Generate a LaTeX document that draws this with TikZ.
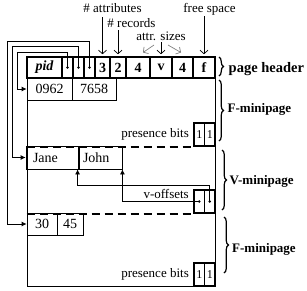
\documentclass[tikz,border=0pt]{standalone}
\usepackage{fontspec}
\setmainfont{Liberation Serif}
\usetikzlibrary{arrows.meta,decorations.pathreplacing}
\begin{document}
\begin{tikzpicture}[x=1pt,y=-1pt,
  hcell/.style={draw, line width=1.6pt, minimum height=21pt, inner sep=0pt, font=\fontsize{14}{16}\selectfont\bfseries},
  cell/.style={draw, line width=0.8pt, inner sep=0pt, font=\fontsize{14}{16}\selectfont},
  bit/.style={draw, line width=1.6pt, minimum width=10.5pt, minimum height=23pt, inner sep=0pt, font=\fontsize{12}{14}\selectfont},
  lbl/.style={font=\fontsize{13}{15}\selectfont, inner sep=0pt},
  side/.style={font=\fontsize{13}{15}\selectfont\bfseries, anchor=base west, inner sep=0pt},
  ptr/.style={line width=0.8pt, -{Latex[length=5pt,width=5pt]}},
  ann/.style={line width=0.7pt, -{Straight Barb[length=3.5pt,width=8pt]}},
  brc/.style={decorate, decoration={brace, amplitude=4.5pt}, line width=1.2pt},
  sepline/.style={line width=2.4pt, dash pattern=on 8pt off 5pt},
  dotmark/.style={circle, fill, inner sep=0pt, minimum size=2.8pt}
]
\useasboundingbox (0,0) rectangle (307,290);

% page outline
\node[draw, line width=0.8pt, minimum width=188pt, minimum height=229pt, inner sep=0pt] (page) at (121,171.5) {};

% header
\node[hcell, minimum width=35pt] (pid) at (44.5,67.5) {\itshape pid};
\node[hcell, minimum width=11pt] (d1) at (67.5,67.5) {};
\node[hcell, minimum width=11pt] (d2) at (78.5,67.5) {};
\node[hcell, minimum width=11pt] (d3) at (89.5,67.5) {};
\node[hcell, minimum width=15pt] (n3) at (102.5,67.5) {3};
\node[hcell, minimum width=16pt] (n2) at (118,67.5) {2};
\node[hcell, minimum width=24pt] (s1) at (138,67.5) {4};
\node[hcell, minimum width=22pt] (sv) at (161,67.5) {v};
\node[hcell, minimum width=21pt] (s2) at (182.5,67.5) {4};
\node[hcell, minimum width=22pt] (fs) at (204,67.5) {f};
\node[dotmark] (p1) at (d1.center) {};
\node[dotmark] (p2) at (d2.center) {};
\node[dotmark] (p3) at (d3.center) {};

% annotations
\node[lbl, anchor=base] (lattr) at (112.5,12.5) {\# attributes};
\node[lbl, anchor=base] (lrec) at (131.5,27) {\# records};
\node[lbl, anchor=base] (lsize) at (161,40) {attr. sizes};
\node[lbl, anchor=base] (lfree) at (209.5,12) {free space};
\draw[ann] (n3.north |- 0,17) -- ([yshift=2pt]n3.north);
\draw[ann] (n2.north |- 0,30) -- ([yshift=2pt]n2.north);
\draw[ann] (sv.north |- 0,42) -- ([yshift=2pt]sv.north);
\draw[ann, gray] (154,45) -- (143,52.5);
\draw[ann, gray] (168,45) -- (181,52.5);
\draw[ann] (fs.north |- 0,16) -- ([yshift=2pt]fs.north);

% F-minipage 1
\node[cell, minimum width=45pt, minimum height=22pt] (r1a) at (49.5,89) {0962};
\node[cell, minimum width=44pt, minimum height=22pt] (r1b) at (94,89) {7658};
\node[bit] (b1a) at (199.25,134.5) {1};
\node[bit] (b1b) at (209.75,134.5) {1};
\node[lbl, anchor=base east] (lpb1) at (189,137) {presence bits};
\draw[sepline] (page.west |- b1a.south) -- (b1a.south west);

% V-minipage
\node[cell, minimum width=51pt, minimum height=23pt, text width=39pt, align=left, inner xsep=7pt] (r2a) at (52.5,157.5) {Jane};
\node[cell, minimum width=44pt, minimum height=23pt, text width=34pt, align=left, inner xsep=5pt] (r2b) at (100,157.5) {John};
\node[bit] (voa) at (199.25,201.5) {};
\node[bit] (vob) at (209.75,201.5) {};
\node[dotmark] (q1) at (voa.center) {};
\node[dotmark] (q2) at (vob.center) {};
\node[lbl, anchor=base east] (lvo) at (189,198) {v-offsets};
\draw[ptr] (q2.center) -- (q2.center |- 0,185) -| (r2b.south west);
\draw[ptr] (q1.center) -| (r2b.south east);
\draw[sepline] (page.west |- voa.south) -- (voa.south west);

% F-minipage 2
\node[cell, minimum width=30pt, minimum height=22pt] (r3a) at (42,224) {30};
\node[cell, minimum width=26pt, minimum height=22pt] (r3b) at (70,224) {45};
\node[bit] (b3a) at (199.25,274.5) {1};
\node[bit] (b3b) at (209.75,274.5) {1};
\node[lbl, anchor=base east] (lpb3) at (189,277.5) {presence bits};

% pointers from header
\draw[ptr] (p1.center) |- (17,52) |- (r1a.west);
\draw[ptr] (p2.center) |- (12,46) |- (r2a.west);
\draw[ptr] (p3.center) |- (7,41) |- (r3a.west);

% braces and side labels
\draw[brc] (219,57) -- (219,76);
\node[side, font=\fontsize{14.5}{16}\selectfont\bfseries] (sh) at (228.5,72) {page header};
\draw[brc] (219,80) -- (219,141);
\node[side] (sf1) at (227.5,112) {F-minipage};
\draw[brc] (222,150) -- (222,210);
\node[side] (sv1) at (229.5,184) {V-minipage};
\draw[brc] (224,217) -- (224,273);
\node[side] (sf2) at (232,252) {F-minipage};
\end{tikzpicture}
\end{document}
